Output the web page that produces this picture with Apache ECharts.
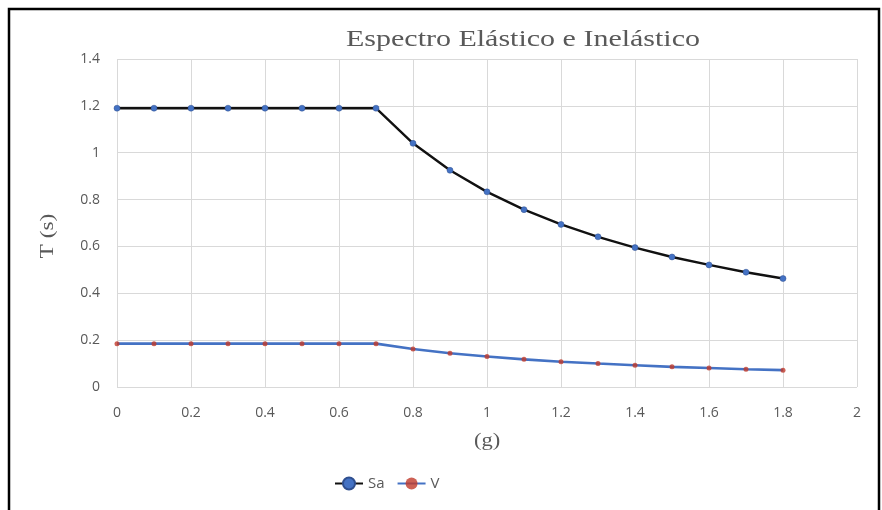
<!DOCTYPE html>
<html>
<head>
<meta charset="utf-8">
<script src="https://cdn.jsdelivr.net/npm/echarts@6/dist/echarts.min.js"></script>
<style>html,body{margin:0;padding:0;background:#fff;}#c{width:882px;height:510px;}</style>
</head>
<body>
<div id="c"></div>
<script>
var periods = [0, 0.1, 0.2, 0.3, 0.4, 0.5, 0.6, 0.7, 0.8, 0.9, 1.0, 1.1, 1.2, 1.3, 1.4, 1.5, 1.6, 1.7, 1.8];
var saValues = [1.19, 1.19, 1.19, 1.19, 1.19, 1.19, 1.19, 1.19, 1.04, 0.925, 0.833, 0.757, 0.694, 0.641, 0.595, 0.555, 0.521, 0.49, 0.463];
var vValues = [0.185, 0.185, 0.185, 0.185, 0.185, 0.185, 0.185, 0.185, 0.162, 0.144, 0.13, 0.118, 0.108, 0.1, 0.093, 0.086, 0.081, 0.076, 0.072];
var xTicks = [0, 0.2, 0.4, 0.6, 0.8, 1, 1.2, 1.4, 1.6, 1.8, 2];
var yTicks = [0, 0.2, 0.4, 0.6, 0.8, 1, 1.2, 1.4];
var titleText = 'Espectro Elástico e Inelástico';
var xName = '(g)';
var yName = 'T (s)';

function pairs(xs, ys) { return xs.map(function (x, i) { return [x, ys[i]]; }); }
function tickFmt(list) {
  return function (v) {
    var t = list.filter(function (k) { return Math.abs(k - v) < 1e-6; });
    return t.length ? String(t[0]) : '';
  };
}

var chart = echarts.init(document.getElementById('c'), null, { renderer: 'canvas' });
var labelFont = { color: '#595959', fontFamily: 'Open Sans', fontSize: 14 };
chart.setOption({
  animation: false,
  backgroundColor: '#fff',
  graphic: [
    {
      type: 'rect', shape: { x: 9, y: 9, width: 870, height: 530 },
      style: { fill: 'none', stroke: '#000', lineWidth: 2.5 }, silent: true
    },
    {
      type: 'text', x: 346, y: 28, scaleX: 1.25, silent: true,
      style: { text: titleText, fontFamily: 'Liberation Serif', fontSize: 24, fill: '#595959', textVerticalAlign: 'top' }
    },
    {
      type: 'text', x: 487, y: 441, scaleX: 1.25, silent: true,
      style: { text: xName, fontFamily: 'Liberation Serif', fontSize: 18, fill: '#595959', textAlign: 'center', textVerticalAlign: 'middle' }
    },
    {
      type: 'text', x: 48, y: 236, rotation: Math.PI / 2, scaleX: 1.3, silent: true,
      style: { text: yName, fontFamily: 'Liberation Serif', fontSize: 18, fill: '#595959', textAlign: 'center', textVerticalAlign: 'middle' }
    }
  ],
  legend: {
    data: ['Sa', 'V'], left: 329, top: 471, itemWidth: 28, itemHeight: 15, itemGap: 12,
    textStyle: { color: '#595959', fontFamily: 'Open Sans', fontSize: 15 }
  },
  grid: { left: 117, right: 25, top: 59, bottom: 123 },
  xAxis: {
    type: 'value', min: 0, max: 2, interval: 0.2,
    axisLine: { show: false }, axisTick: { show: false },
    axisLabel: Object.assign({ margin: 19, formatter: tickFmt(xTicks) }, labelFont),
    splitLine: { show: true, lineStyle: { color: '#d9d9d9', width: 1 } }
  },
  yAxis: {
    type: 'value', min: 0, max: 1.4, interval: 0.2,
    axisLine: { show: false }, axisTick: { show: false },
    axisLabel: Object.assign({ margin: 17, formatter: tickFmt(yTicks) }, labelFont),
    splitLine: { show: true, lineStyle: { color: '#d9d9d9', width: 1 } }
  },
  series: [
    {
      name: 'Sa', type: 'line', data: pairs(periods, saValues),
      symbol: 'circle', symbolSize: 6,
      lineStyle: { color: '#111', width: 2.4 },
      itemStyle: { color: '#4472c4', borderColor: '#2f4f8f', borderWidth: 0.5 }
    },
    {
      name: 'V', type: 'line', data: pairs(periods, vValues),
      symbol: 'circle', symbolSize: 5,
      lineStyle: { color: '#4472c4', width: 2.6 },
      itemStyle: { color: '#c0392b', opacity: 0.8 }
    }
  ]
});
</script>
</body>
</html>
